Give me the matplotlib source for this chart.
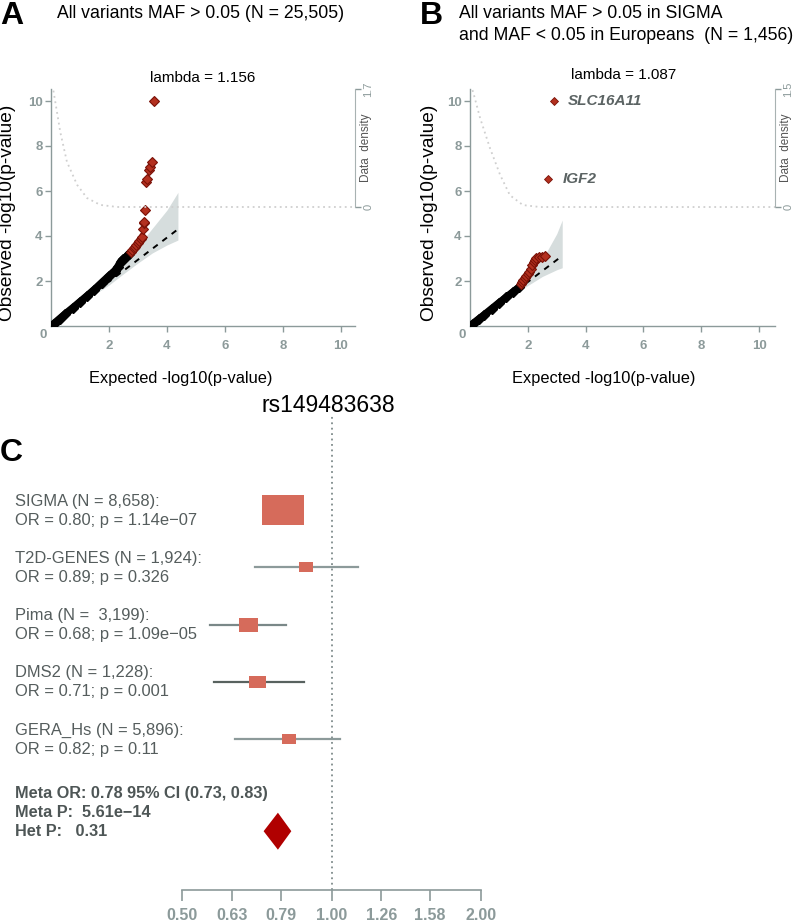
import numpy as np
import matplotlib
matplotlib.use("Agg")
import matplotlib.pyplot as plt
from matplotlib.patches import Rectangle, Polygon
from matplotlib.transforms import blended_transform_factory

plt.rcParams['font.family'] = ['Liberation Sans', 'DejaVu Sans']

# ---------------- data ----------------
# Panel A QQ
a_black_exp = [0.1, 0.3, 0.5, 0.75, 1.0, 1.25, 1.5, 1.75, 2.0, 2.2, 2.3, 2.4, 2.5, 2.6, 2.7]
a_black_obs = [0.1, 0.32, 0.54, 0.8, 1.07, 1.34, 1.62, 1.92, 2.22, 2.45, 2.62, 2.85, 2.98, 3.08, 3.22]
a_red_exp = [2.75, 2.8, 2.85, 2.9, 2.95, 3.0, 3.05, 3.1, 3.13]
a_red_obs = [3.3, 3.38, 3.45, 3.52, 3.6, 3.68, 3.78, 3.88, 3.97]
a_top_exp = [3.16, 3.21, 3.22, 3.25, 3.29, 3.31, 3.37, 3.42, 3.48, 3.56]
a_top_obs = [4.31, 4.58, 4.64, 5.16, 6.38, 6.53, 6.93, 7.08, 7.27, 10.0]
a_band_exp = [0, 0.5, 1.0, 1.5, 2.0, 2.5, 3.0, 3.5, 4.0, 4.38]
a_band_hi = [0.05, 0.55, 1.08, 1.62, 2.2, 2.85, 3.55, 4.35, 5.15, 5.94]
a_band_lo = [0.0, 0.48, 0.95, 1.4, 1.82, 2.32, 2.8, 3.25, 3.6, 3.82]
a_line_end = [4.38, 4.3]
a_dens_x = [0.02, 0.09, 0.32, 0.55, 0.9, 1.24, 1.7, 2.28, 10.45]
a_dens_y = [1.75, 1.66, 1.08, 0.65, 0.32, 0.13, 0.03, 0.0, 0.0]
a_lambda = "lambda = 1.156"

# Panel B QQ
b_black_exp = [0.1, 0.3, 0.5, 0.75, 1.0, 1.25, 1.5, 1.7]
b_black_obs = [0.1, 0.3, 0.5, 0.76, 1.02, 1.27, 1.52, 1.72]
b_red_exp = [1.75, 1.8, 1.85, 1.9, 1.95, 2.0, 2.05, 2.1, 2.15, 2.2, 2.25, 2.3, 2.4, 2.5, 2.6]
b_red_obs = [1.85, 1.95, 2.05, 2.12, 2.2, 2.3, 2.4, 2.55, 2.7, 2.85, 2.95, 3.0, 3.05, 3.08, 3.1]
b_hit_genes = ["SLC16A11", "IGF2"]
b_hit_exp = [2.92, 2.71]
b_hit_obs = [10.0, 6.53]
b_band_exp = [0, 0.5, 1.0, 1.5, 2.0, 2.5, 3.0, 3.19]
b_band_hi = [0.05, 0.56, 1.08, 1.65, 2.25, 2.95, 4.1, 4.71]
b_band_lo = [0.0, 0.46, 0.92, 1.38, 1.8, 2.2, 2.5, 2.59]
b_line_end = [3.19, 3.12]
b_dens_x = [0.02, 0.11, 0.35, 0.69, 1.04, 1.38, 1.83, 2.42, 10.55]
b_dens_y = [1.55, 1.46, 1.13, 0.75, 0.41, 0.15, 0.025, 0.0, 0.0]
b_lambda = "lambda = 1.087"

# Panel C forest
studies = ["SIGMA (N = 8,658):", "T2D-GENES (N = 1,924):", "Pima (N =  3,199):",
           "DMS2 (N = 1,228):", "GERA_Hs (N = 5,896):"]
or_vals = [0.80, 0.89, 0.68, 0.71, 0.82]
p_labels = ["1.14e\u221207", "0.326", "1.09e\u221205", "0.001", "0.11"]
ci_lo = [0.74, 0.70, 0.57, 0.58, 0.64]
ci_hi = [0.87, 1.13, 0.81, 0.88, 1.04]
meta_or, meta_lo, meta_hi = 0.78, 0.73, 0.83
meta_p = "5.61e\u221214"
het_p = "0.31"
or_ticks = [0.50, 0.63, 0.79, 1.00, 1.26, 1.58, 2.00]
snp = "rs149483638"

# ---------------- layout helpers ----------------
W, H = 797, 922
fig = plt.figure(figsize=(W / 100, H / 100), dpi=100)


def fbox(x0, y0, x1, y1):
    return [x0 / W, 1 - y1 / H, (x1 - x0) / W, (y1 - y0) / H]


def ftxt(x, y, s, **kw):
    fig.text(x / W, 1 - y / H, s, **kw)


GREY = "#8c9a9a"
TXT = "#555d5d"
RED_F = "#b3301f"
RED_E = "#7a1208"
BAND = "#d6dddd"


def qq_panel(box, xmax, ymax, dmax, dens_bottom,
             bx, by, rx, ry, band_x, band_hi, band_lo, line_end,
             dens_x, dens_y, red_ms):
    ax = fig.add_axes(fbox(*box))
    ax.set_xlim(0, xmax)
    ax.set_ylim(0, ymax)
    ax.fill_between(band_x, band_lo, band_hi, color=BAND, lw=0, zorder=1)
    ax.plot([0, line_end[0]], [0, line_end[1]], color="black", lw=1.4,
            dashes=(3, 3), zorder=2)
    ax.plot(bx, by, color="black", lw=5.5, solid_capstyle="round", zorder=3)
    ax.plot(bx, by, "D", ms=5, color="black", zorder=3)
    if rx:
        ax.plot(rx, ry, "D", ms=red_ms, mfc=RED_F, mec=RED_E, mew=0.8, zorder=4)
    for s in ["top", "right"]:
        ax.spines[s].set_visible(False)
    for s in ["left", "bottom"]:
        ax.spines[s].set_color(GREY)
        ax.spines[s].set_linewidth(1.0)
    ax.set_xticks([2, 4, 6, 8, 10])
    ax.set_yticks([2, 4, 6, 8, 10])
    ax.tick_params(colors=GREY, length=4, width=1.0, labelsize=9.5, pad=6)
    ax.tick_params(axis="y", pad=2)
    for lab in ax.get_xticklabels() + ax.get_yticklabels():
        lab.set_fontweight("bold")
    # density twin
    ax2 = ax.twinx()
    ax2.set_ylim(dens_bottom, dmax)
    ax2.plot(dens_x, dens_y, color="#cfcfcf", lw=1.3, ls=(0, (1, 2)), zorder=0)
    for s in ["top", "left", "bottom"]:
        ax2.spines[s].set_visible(False)
    ax2.spines["right"].set_bounds(0, dmax)
    ax2.spines["right"].set_color("#a8b2b2")
    ax2.set_yticks([0, dmax])
    ax2.set_yticklabels(["0", f"{dmax}"], rotation=90, va="center")
    ax2.tick_params(colors=GREY, length=4, width=1.0, labelsize=8, pad=2)
    ax2.set_xlim(0, xmax)
    return ax


# ---- Panel A ----
axA = qq_panel((51, 89, 355, 326), 10.49, 237 / 22.5, 1.7, -119 / 69.4,
               a_black_exp, a_black_obs, a_red_exp + a_top_exp, a_red_obs + a_top_obs,
               a_band_exp, a_band_hi, a_band_lo, a_line_end, a_dens_x, a_dens_y, 5.5)
axA.plot(a_red_exp, a_red_obs, color=RED_F, lw=4, zorder=3.5)

# ---- Panel B ----
axB = qq_panel((470, 89, 775, 326), 10.55, 237 / 22.5, 1.5, -119 / 78.7,
               b_black_exp, b_black_obs, b_red_exp, b_red_obs,
               b_band_exp, b_band_hi, b_band_lo, b_line_end, b_dens_x, b_dens_y, 5)
axB.plot(b_hit_exp, b_hit_obs, "D", ms=4, mfc=RED_F, mec=RED_E, mew=0.6, zorder=5)
for g, x, y in zip(b_hit_genes, b_hit_exp, b_hit_obs):
    axB.annotate(g, (x, y), xytext=(10, 0), textcoords="offset points",
                 va="center", ha="left", fontsize=11, fontweight="bold",
                 fontstyle="italic", color="#5b6363")

# titles / labels for QQ panels
ftxt(0, 16, "A", fontsize=23, fontweight="bold", va="center", ha="left")
ftxt(57, 13, "All variants MAF > 0.05 (N = 25,505)", fontsize=12.7, va="center", ha="left")
ftxt(203, 78, a_lambda, fontsize=11, va="center", ha="center")
ftxt(420, 16, "B", fontsize=23, fontweight="bold", va="center", ha="left")
ftxt(459, 13, "All variants MAF > 0.05 in SIGMA", fontsize=12.7, va="center", ha="left")
ftxt(459, 36, "and MAF < 0.05 in Europeans  (N = 1,456)", fontsize=12.7, va="center", ha="left")
ftxt(624, 75, b_lambda, fontsize=11, va="center", ha="center")

for xc, x0c, dens_x in [(8, 43, 366), (430, 462, 786)]:
    ftxt(xc, 213, "Observed -log10(p-value)", fontsize=13.8, rotation=90,
         va="center", ha="center")
    ftxt(x0c, 335, "0", fontsize=9.5, fontweight="bold", color=GREY,
         va="center", ha="center")
    ftxt(dens_x, 148, "Data  density", fontsize=8.5, rotation=90,
         va="center", ha="center", color="#555555")
ftxt(181, 378, "Expected -log10(p-value)", fontsize=11.8, va="center", ha="center")
ftxt(604, 378, "Expected -log10(p-value)", fontsize=11.8, va="center", ha="center")

# ---------------- Panel C ----------------
fx0, fy0, fx1, fy1 = 182, 415, 481, 890
row_px = 57.3
n = len(studies)
rows = -np.arange(n, dtype=float)
meta_y = rows[-1] - 92 / row_px
axC = fig.add_axes(fbox(fx0, fy0, fx1, fy1))
axC.set_xscale("log")
axC.set_xlim(0.5, 2.0)
axC.set_ylim(-(fy1 - 510) / row_px, (510 - fy0) / row_px)
px_per_log2 = (fx1 - fx0) / np.log2(2.0 / 0.5)

axC.axvline(1.0, color="#7f8b8b", lw=1.3, ls=(0, (1, 2)), zorder=1)

se = [(np.log(h) - np.log(l)) / 3.92 for l, h in zip(ci_lo, ci_hi)]
inv = np.array([1 / s for s in se])
wpx = 42 * inv / inv.max()
line_cols = ["#8c9a9a", "#8c9a9a", "#7a8888", "#58625f", "#8c9a9a"]
for i in range(n):
    y = rows[i]
    axC.plot([ci_lo[i], ci_hi[i]], [y, y], color=line_cols[i], lw=1.6, zorder=2)
    half = wpx[i] / 2 / px_per_log2
    x0 = or_vals[i] * 2 ** (-half)
    x1 = or_vals[i] * 2 ** (half)
    hh = 0.72 * wpx[i] / row_px
    axC.add_patch(Rectangle((x0, y - hh / 2), x1 - x0, hh, facecolor="#d66b5b",
                            edgecolor="none", zorder=3))

dh = 18.5 / row_px
axC.add_patch(Polygon([(meta_lo, meta_y), (meta_or, meta_y + dh), (meta_hi, meta_y),
                       (meta_or, meta_y - dh)], closed=True, facecolor="#b00000",
                      edgecolor="none", zorder=3))

for s in ["top", "right", "left"]:
    axC.spines[s].set_visible(False)
axC.spines["bottom"].set_bounds(0.5, 2.0)
axC.spines["bottom"].set_color(GREY)
axC.spines["bottom"].set_linewidth(1.2)
axC.set_yticks([])
axC.set_xticks(or_ticks)
axC.set_xticklabels([f"{t:.2f}" for t in or_ticks])
axC.xaxis.set_minor_locator(matplotlib.ticker.NullLocator())
axC.tick_params(axis="x", colors=GREY, length=8, width=1.2, labelsize=11.5, pad=5)
for lab in axC.get_xticklabels():
    lab.set_fontweight("bold")

tr = blended_transform_factory(fig.transFigure, axC.transData)
for i in range(n):
    y = rows[i]
    axC.text(15 / W, y + 9 / row_px, studies[i], transform=tr, fontsize=11.9,
             color=TXT, va="center", ha="left")
    axC.text(15 / W, y - 10 / row_px, f"OR = {or_vals[i]:.2f}; p = {p_labels[i]}",
             transform=tr, fontsize=11.9, color=TXT, va="center", ha="left")

meta_lines = [f"Meta OR: {meta_or:.2f} 95% CI ({meta_lo:.2f}, {meta_hi:.2f})",
              f"Meta P:  {meta_p}", f"Het P:   {het_p}"]
for k, s in enumerate(meta_lines):
    ftxt(15, 793 + 19.5 * k, s, fontsize=11.7, fontweight="bold", color="#4e5656",
         va="center", ha="left")

ftxt(328, 405, snp, fontsize=16.5, va="center", ha="center")
ftxt(0, 453, "C", fontsize=23, fontweight="bold", va="center", ha="left")

fig.savefig("out.png", dpi=100)
